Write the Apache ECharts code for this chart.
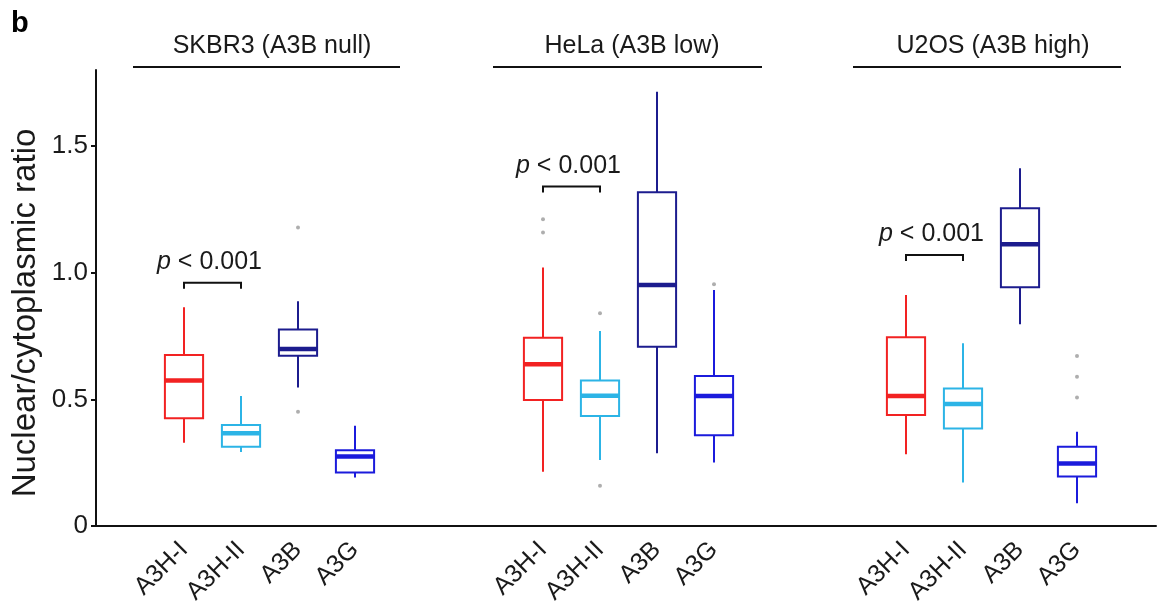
<!DOCTYPE html>
<html>
<head>
<meta charset="utf-8">
<title>Nuclear/cytoplasmic ratio</title>
<script src="https://cdn.jsdelivr.net/npm/echarts@6/dist/echarts.min.js"></script>
<style>
    html, body { margin: 0; padding: 0; background: #fff; }
    #main { width: 1160px; height: 603px; }
</style>
</head>
<body>
<div id="main"></div>
<script>
    // categories and panels
    var proteins = ['A3H-I', 'A3H-II', 'A3B', 'A3G'];
    var cellLines = ['SKBR3 (A3B null)', 'HeLa (A3B low)', 'U2OS (A3B high)'];
    var yTicks = [0, 0.5, 1.0, 1.5];

    // [min, Q1, median, Q3, max] per protein
    var skbr3Box = [
        [0.329, 0.425, 0.574, 0.675, 0.863],
        [0.292, 0.313, 0.366, 0.399, 0.513],
        [0.547, 0.672, 0.699, 0.776, 0.887],
        [0.191, 0.211, 0.274, 0.299, 0.396]
    ];
    var helaBox = [
        [0.214, 0.497, 0.638, 0.743, 1.020],
        [0.261, 0.434, 0.514, 0.574, 0.770],
        [0.287, 0.708, 0.951, 1.317, 1.714],
        [0.251, 0.358, 0.513, 0.592, 0.932]
    ];
    var u2osBox = [
        [0.283, 0.438, 0.513, 0.745, 0.912],
        [0.172, 0.385, 0.482, 0.543, 0.721],
        [0.796, 0.942, 1.112, 1.254, 1.412],
        [0.090, 0.195, 0.247, 0.313, 0.372]
    ];

    // outliers: [protein index, value]
    var skbr3Outliers = [[2, 1.178], [2, 0.451]];
    var helaOutliers = [[0, 1.211], [0, 1.159], [1, 0.840], [1, 0.159], [3, 0.954]];
    var u2osOutliers = [[3, 0.671], [3, 0.589], [3, 0.507]];

    // height of the A3H-I vs A3H-II bracket in each panel
    var bracketY = [0.96, 1.34, 1.07];
    var pLabel = '{i|p} < 0.001';

    var colors = ['#f22222', '#2cb4e6', '#1c1c8e', '#1b1bdc'];
    var font = "'Liberation Sans', Arial, Helvetica, sans-serif";
    var textColor = '#1a1a1a';

    var boxes = [skbr3Box, helaBox, u2osBox];
    var outliers = [skbr3Outliers, helaOutliers, u2osOutliers];
    var panelLeft = [155.5, 514.5, 877.5];
    var panelWidth = 228;
    var titleX = [267, 627, 988];
    var lineX = [[133, 400], [493, 762], [853, 1121]];

    var chart = echarts.init(document.getElementById('main'));

    function renderBox(params, api) {
        var i = api.value(0);
        var lo = api.coord([i, api.value(1)]);
        var q1 = api.coord([i, api.value(2)]);
        var md = api.coord([i, api.value(3)]);
        var q3 = api.coord([i, api.value(4)]);
        var hi = api.coord([i, api.value(5)]);
        var w = api.size([1, 0])[0] * 0.67;
        var x = lo[0];
        var c = colors[i];
        return {
            type: 'group',
            children: [
                { type: 'line', shape: { x1: x, y1: hi[1], x2: x, y2: q3[1] }, style: { stroke: c, lineWidth: 2 } },
                { type: 'line', shape: { x1: x, y1: q1[1], x2: x, y2: lo[1] }, style: { stroke: c, lineWidth: 2 } },
                { type: 'rect', shape: { x: x - w / 2, y: q3[1], width: w, height: q1[1] - q3[1] }, style: { fill: '#fff', stroke: c, lineWidth: 2 } },
                { type: 'line', shape: { x1: x - w / 2, y1: md[1], x2: x + w / 2, y2: md[1] }, style: { stroke: c, lineWidth: 4.5 } }
            ]
        };
    }

    function renderBracket(params, api) {
        var a = api.coord([0, api.value(1)]);
        var b = api.coord([1, api.value(1)]);
        return {
            type: 'group',
            children: [
                {
                    type: 'polyline',
                    shape: { points: [[a[0], a[1] + 6], [a[0], a[1]], [b[0], b[1]], [b[0], b[1] + 6]] },
                    style: { stroke: '#111', lineWidth: 2, fill: null }
                },
                {
                    type: 'text',
                    x: (a[0] + b[0]) / 2 - 3,
                    y: a[1] - 8,
                    style: {
                        text: pLabel,
                        align: 'center',
                        verticalAlign: 'bottom',
                        fontSize: 25,
                        fontFamily: font,
                        fill: textColor,
                        rich: { i: { fontStyle: 'italic', fontSize: 25, fontFamily: font, fill: textColor } }
                    }
                }
            ]
        };
    }

    var grid = [{ left: 96, right: 4, top: 70, bottom: 77, outerBoundsMode: 'none' }];
    var xAxis = [{
        gridIndex: 0, type: 'value', min: 0, max: 1,
        axisLine: { show: true, lineStyle: { color: '#111', width: 2 } },
        axisTick: { show: false }, axisLabel: { show: false }, splitLine: { show: false }
    }];
    var yAxis = [{
        gridIndex: 0, type: 'value', min: 0, max: 1.8,
        axisLine: { show: true, lineStyle: { color: '#111', width: 2 } },
        axisTick: { show: true, length: 5, customValues: yTicks, lineStyle: { color: '#111', width: 2 } },
        axisLabel: {
            customValues: yTicks, margin: 8, fontSize: 26, fontFamily: font, color: textColor,
            formatter: function (v) { return v === 0 ? '0' : v.toFixed(1); }
        },
        splitLine: { show: false }
    }];
    var series = [];
    var titles = [];
    var graphics = [{
        type: 'text', x: 26, y: 313, rotation: Math.PI / 2,
        style: {
            text: 'Nuclear/cytoplasmic ratio', align: 'center', verticalAlign: 'middle',
            fontSize: 33, fontFamily: font, fill: textColor
        }
    }, {
        type: 'text', x: 11, y: 9,
        style: { text: 'b', fontSize: 29, fontWeight: 'bold', fontFamily: font, fill: '#000' }
    }];

    for (var p = 0; p < 3; p++) {
        var g = p + 1;
        grid.push({ left: panelLeft[p], width: panelWidth, top: 70, bottom: 77, outerBoundsMode: 'none' });
        xAxis.push({
            gridIndex: g, type: 'category', data: proteins,
            axisLine: { show: false }, axisTick: { show: false }, splitLine: { show: false },
            axisLabel: { interval: 0, rotate: 45, margin: 20, fontSize: 25, fontFamily: font, color: textColor }
        });
        yAxis.push({ gridIndex: g, type: 'value', min: 0, max: 1.8, show: false, splitLine: { show: false } });

        series.push({
            type: 'custom', xAxisIndex: g, yAxisIndex: g,
            renderItem: renderBox,
            encode: { x: 0, y: [1, 2, 3, 4, 5] },
            data: boxes[p].map(function (d, i) { return [i].concat(d); }),
            z: 3
        });
        series.push({
            type: 'scatter', xAxisIndex: g, yAxisIndex: g,
            symbolSize: 4, itemStyle: { color: '#9a9a9a' },
            data: outliers[p], z: 2
        });
        series.push({
            type: 'custom', xAxisIndex: g, yAxisIndex: g,
            renderItem: renderBracket,
            encode: { x: 0, y: 1 },
            data: [[0.5, bracketY[p]]],
            z: 4
        });

        titles.push({
            text: cellLines[p], left: titleX[p], top: 29, textAlign: 'center',
            textStyle: { fontSize: 25, fontWeight: 'normal', fontFamily: font, color: textColor }
        });
        graphics.push({
            type: 'line',
            shape: { x1: lineX[p][0], y1: 67, x2: lineX[p][1], y2: 67 },
            style: { stroke: '#111', lineWidth: 2 }
        });
    }

    chart.setOption({
        animation: false,
        backgroundColor: '#fff',
        title: titles,
        grid: grid,
        xAxis: xAxis,
        yAxis: yAxis,
        graphic: graphics,
        series: series
    });
</script>
</body>
</html>
